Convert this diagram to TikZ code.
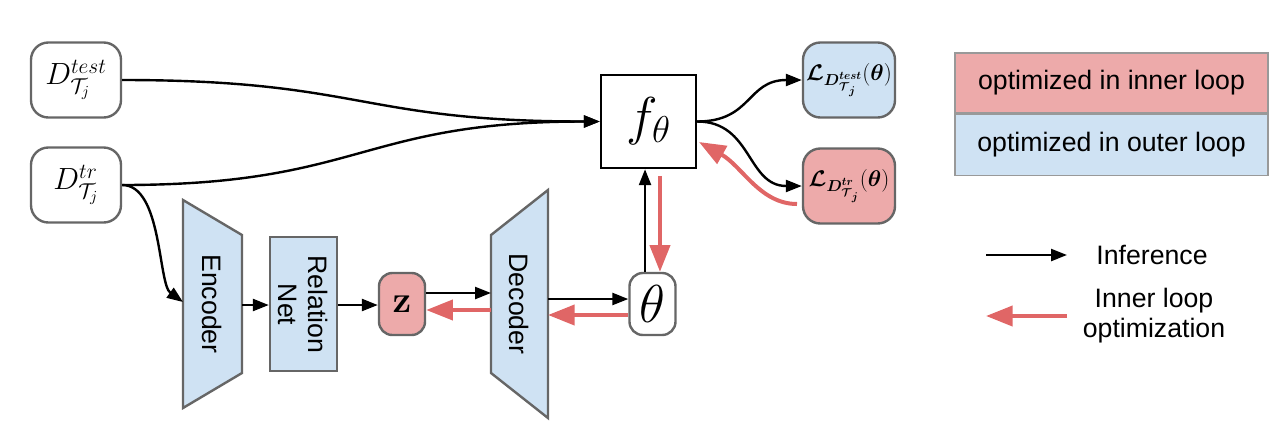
\RequirePackage{fix-cm}
\documentclass[tikz,border=0pt]{standalone}
\usepackage{amsmath,bm}
\usepackage[no-math]{fontspec}
\setmainfont{Liberation Sans}
\usetikzlibrary{arrows.meta}
\definecolor{pinkfill}{HTML}{EDAAAA}
\definecolor{bluefill}{HTML}{CFE2F3}
\definecolor{redarrow}{HTML}{E06666}
\definecolor{graybd}{HTML}{666666}
\definecolor{graylg}{HTML}{999999}
\tikzset{
  rbox/.style={draw=graybd, line width=1.8pt, rounded corners=13pt, inner sep=0pt, align=center},
  infer/.style={line width=1.8pt, -{Triangle[length=12pt,width=9pt]}},
  inner/.style={draw=redarrow, line width=3pt, -{Triangle[length=20pt,width=15pt]}},
  lbl/.style={font=\fontsize{20}{22.5}\selectfont},
  trap/.style={draw=graybd, line width=1.8pt, fill=bluefill, line join=miter},
}
\begin{document}
\begin{tikzpicture}[x=0.75pt, y=-0.75pt]
\useasboundingbox (0,0) rectangle (1278,437);
% input nodes
\node[rbox, fill=white, minimum width=67.5pt, minimum height=56.25pt] (dtest) at (76,80)
  {\fontsize{23}{28}\selectfont $D^{test}_{\mathcal{T}_j}$};
\node[rbox, fill=white, minimum width=67.5pt, minimum height=56.25pt] (dtr) at (76,185)
  {\fontsize{23}{28}\selectfont $D^{tr}_{\mathcal{T}_j}$};
% f theta
\node[draw=black, line width=1.8pt, fill=white, minimum width=71.25pt, minimum height=69.75pt, inner sep=0pt] (f) at (648.5,121.5)
  {\fontsize{40}{48}\selectfont $f_\theta$};
% losses
\node[rbox, fill=bluefill, minimum width=69pt, minimum height=56.25pt] (ltest) at (849,80)
  {\fontsize{17}{20}\selectfont $\bm{\mathcal{L}}_{\bm{D}^{\bm{test}}_{\bm{\mathcal{T}}_{\bm{j}}}}(\bm{\theta})$};
\node[rbox, fill=pinkfill, minimum width=69pt, minimum height=56.25pt] (ltr) at (849,186)
  {\fontsize{17}{20}\selectfont $\bm{\mathcal{L}}_{\bm{D}^{\bm{tr}}_{\bm{\mathcal{T}}_{\bm{j}}}}(\bm{\theta})$};
% encoder
\draw[trap] (183,200) -- (242,235) -- (242,373) -- (183,408) -- cycle;
\node[lbl, rotate=-90] (enc) at (212.5,304) {Encoder};
\coordinate (encL) at (183,302);
\coordinate (encR) at (242,305);
% relation net
\node[draw=graybd, line width=1.8pt, fill=bluefill, minimum width=50.25pt, minimum height=100.5pt, inner sep=0pt] (rel) at (303.5,304) {};
\node[lbl, rotate=-90, align=center] (reltxt) at (303.5,304.5) {Relation\\Net};
% z
\node[rbox, rounded corners=10pt, fill=pinkfill, minimum width=34.5pt, minimum height=46.5pt] (z) at (402,304)
  {\fontsize{28}{32}\selectfont $\mathbf{z}$};
% decoder
\draw[trap] (491,235) -- (548,190) -- (548,418) -- (491,373) -- cycle;
\node[lbl, rotate=-90] (dec) at (519.5,304) {Decoder};
\coordinate (decLtop) at (491,293);
\coordinate (decLbot) at (491,310);
\coordinate (decRtop) at (548,299);
\coordinate (decRbot) at (548,315);
% theta
\node[rbox, rounded corners=10pt, fill=white, minimum width=34.5pt, minimum height=46.5pt] (th) at (652.5,304)
  {\fontsize{40}{48}\selectfont $\theta$};
% connectors (inference)
\draw[infer] (dtest.east) .. controls +(240,0) and +(-240,0) .. (f.west);
\draw[infer] (dtr.east) .. controls +(240,0) and +(-240,0) .. (f.west);
\draw[infer] (dtr.east) .. controls +(40,0) and (158,284) .. (encL);
\draw[infer] (encR) -- (rel.west |- encR);
\draw[infer] (rel.east |- encR) -- (z.west |- encR);
\draw[infer] (z.east |- decLtop) -- (decLtop);
\draw[infer] (decRtop) -- (th.west |- decRtop);
\draw[infer] ([xshift=-5.6pt]th.north) -- ([xshift=-5.6pt]th.north |- f.south);
\draw[infer] (f.east) .. controls +(55,0) and +(-55,0) .. (ltest.west);
\draw[infer] (f.east) .. controls +(55,0) and +(-55,0) .. (ltr.west);
% connectors (inner loop)
\draw[inner] ([xshift=5.6pt,yshift=-5pt]th.north |- f.south) -- ([xshift=5.6pt]th.north);
\draw[inner] (th.west |- decRbot) -- (decRbot);
\draw[inner] (decLbot) -- (z.east |- decLbot);
\coordinate (ltrS) at (797,204);
\draw[inner] (ltrS) .. controls (760,204) and (742,166) .. (699,142);
% legend
\node[draw=graylg, line width=0.8pt, fill=pinkfill, minimum width=234.75pt, minimum height=45pt, lbl] (lgin) at (1111.5,83) {optimized in inner loop};
\node[draw=graylg, line width=0.8pt, fill=bluefill, minimum width=234.75pt, minimum height=45.75pt, lbl, anchor=north] (lgout) at (lgin.south) {optimized in outer loop};
\coordinate (la1) at (986,255);
\coordinate (la2) at (1067,255);
\draw[infer] (la1) -- (la2);
\node[lbl] (linf) at (1152,255) {Inference};
\coordinate (lb1) at (1067,316);
\coordinate (lb2) at (986,316);
\draw[inner] (lb1) -- (lb2);
\node[lbl, align=center] (lin) at (1154,316) {Inner loop\\optimization};
\end{tikzpicture}
\end{document}
